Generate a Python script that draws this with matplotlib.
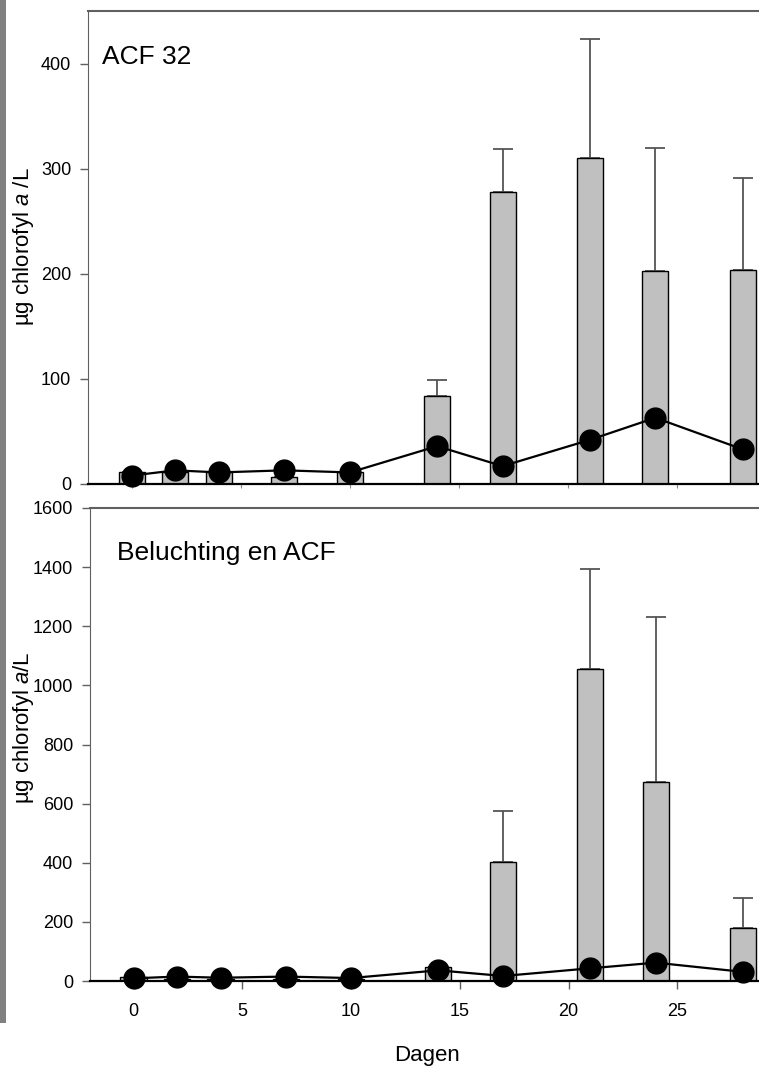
import matplotlib
matplotlib.use("Agg")
import matplotlib.pyplot as plt
from matplotlib.patches import Rectangle
import numpy as np

plt.rcParams['font.family'] = ['Liberation Sans', 'DejaVu Sans']
plt.rcParams['mathtext.fontset'] = 'custom'
plt.rcParams['mathtext.rm'] = 'Liberation Sans'
plt.rcParams['mathtext.it'] = 'Liberation Sans:italic'

# days of sampling
days = [0, 2, 4, 7, 10, 14, 17, 21, 24, 28]

# ACF 32 (top panel)
acf_bars = [11, 11, 11, 7, 11, 84, 278, 310, 203, 204]
acf_err = [0, 0, 0, 0, 0, 15, 41, 113, 117, 87]
acf_line = [8, 13, 11, 13, 11, 36, 17, 42, 63, 33]

# Beluchting en ACF (bottom panel)
bel_bars = [12, 8, 7, 7, 6, 48, 403, 1055, 672, 180]
bel_err = [0, 0, 0, 0, 0, 0, 172, 340, 558, 100]
bel_line = [9, 15, 11, 15, 10, 36, 17, 43, 62, 31]

W, H = 759, 1070
fig = plt.figure(figsize=(W / 100, H / 100), dpi=100)

def px(x0, ytop, x1, ybot):
    return [x0 / W, 1 - ybot / H, (x1 - x0) / W, (ybot - ytop) / H]

ax1 = fig.add_axes(px(88, 11, 759, 484))
ax2 = fig.add_axes(px(90, 508, 759, 981))

spine_gray = '#606060'

def panel(ax, bars, err, line, ymax, yticks, title, title_xy):
    ax.errorbar(days, bars, yerr=[np.zeros(len(err)), err], fmt='none',
                ecolor='#555555', elinewidth=1.3, capsize=7, capthick=1.3, zorder=1)
    ax.bar(days, bars, width=1.2, color='#c0c0c0', edgecolor='black',
           linewidth=1.0, zorder=2)
    ax.plot(days, line, color='black', lw=1.6, marker='o', markersize=15,
            markerfacecolor='black', zorder=3, clip_on=False)
    ax.set_xlim(-2, 28.75)
    ax.set_ylim(0, ymax)
    ax.set_yticks(yticks)
    ax.spines['right'].set_visible(False)
    ax.spines['left'].set_color(spine_gray)
    ax.spines['top'].set_color(spine_gray)
    ax.spines['top'].set_linewidth(1.5)
    ax.spines['bottom'].set_color('black')
    ax.spines['bottom'].set_linewidth(1.6)
    ax.spines['bottom'].set_zorder(4)
    ax.tick_params(axis='y', direction='out', length=6, width=1, color=spine_gray,
                   labelsize=13, pad=6)
    ax.text(title_xy[0], title_xy[1], title, transform=ax.transAxes,
            fontsize=19, ha='left', va='baseline')

panel(ax1, acf_bars, acf_err, acf_line, 450, [0, 100, 200, 300, 400], 'ACF 32',
      ((102 - 88) / 671, (484 - 64) / 473))
panel(ax2, bel_bars, bel_err, bel_line, 1600, range(0, 1601, 200), 'Beluchting en ACF',
      ((117 - 90) / 669, (981 - 560) / 473))

ax1.set_xticks([0, 5, 10, 15, 20, 25])
ax1.tick_params(axis='x', direction='out', length=3, width=0.8, color='#888888',
                labelbottom=False)
ax2.set_xticks([0, 5, 10, 15, 20, 25])
ax2.tick_params(axis='x', direction='out', length=6, width=1, color=spine_gray,
                labelsize=13, pad=10)

fig.text(24 / W, 1 - 247 / H, r'µg chlorofyl $\mathit{a}$ /L', rotation=90,
         ha='center', va='center', fontsize=16)
fig.text(24 / W, 1 - 728 / H, r'µg chlorofyl $\mathit{a}$/L', rotation=90,
         ha='center', va='center', fontsize=16)
fig.text(427 / W, 1 - 1055 / H, 'Dagen', ha='center', va='center', fontsize=16)

# grey strip at the left edge
fig.add_artist(Rectangle((0, 1 - 1023 / H), 6 / W, 1023 / H,
                         transform=fig.transFigure, color='#808080', lw=0))

fig.savefig('out.png', dpi=100)
